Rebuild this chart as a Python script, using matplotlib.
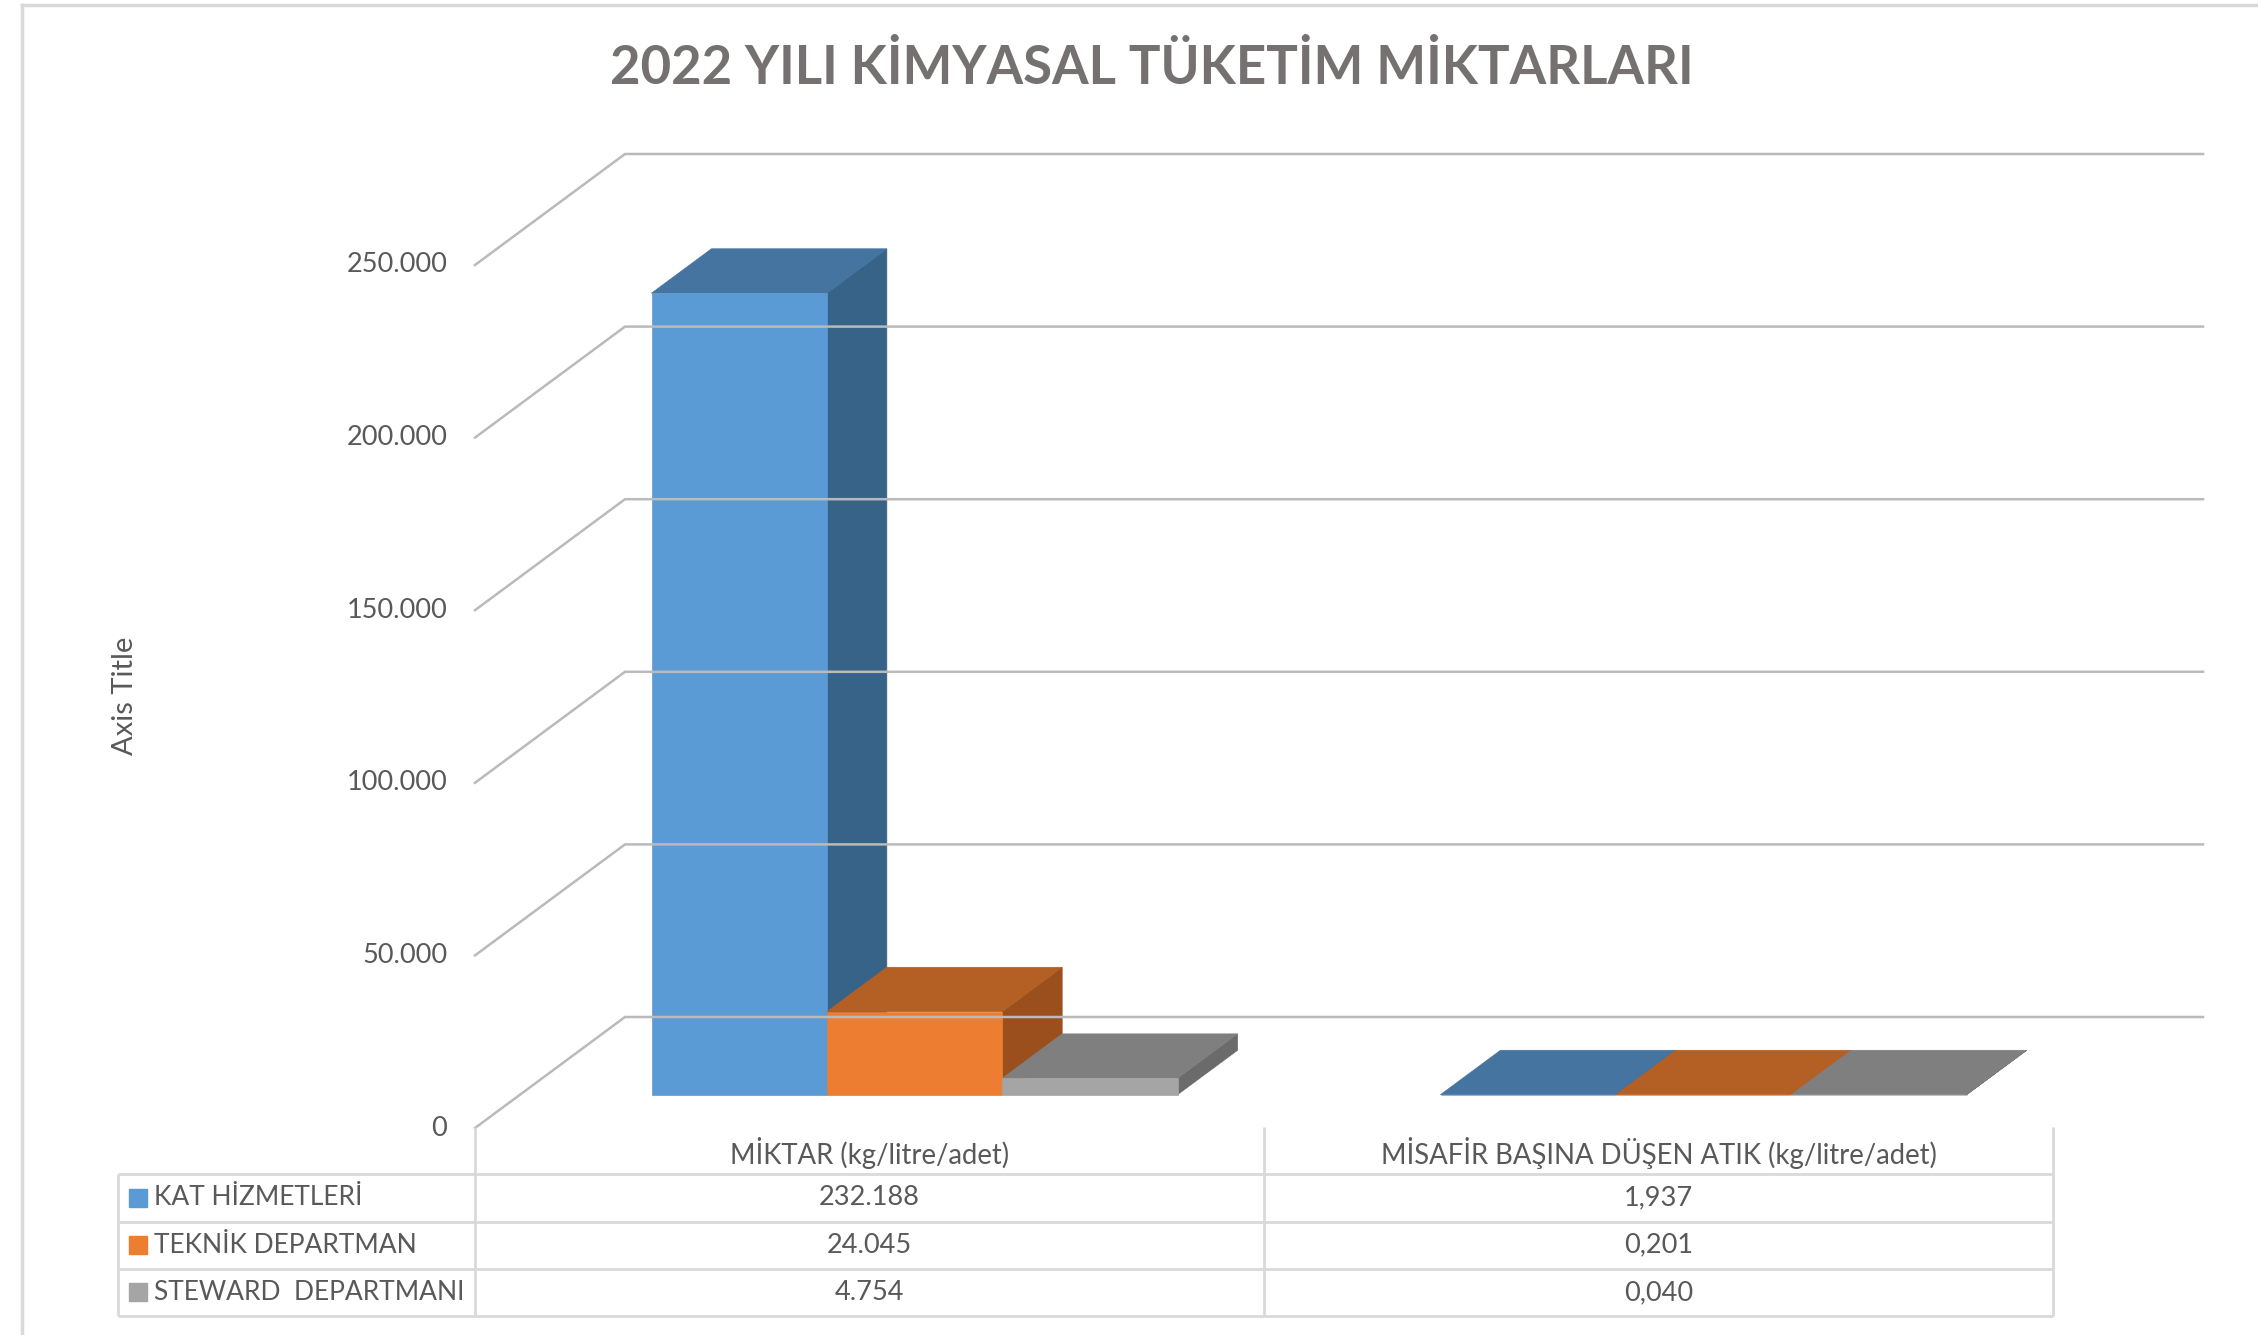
import numpy as np
import matplotlib
matplotlib.use("Agg")
import matplotlib.pyplot as plt
from matplotlib.patches import Polygon
from matplotlib.lines import Line2D

plt.rcParams['font.family'] = ['Lato', 'DejaVu Sans']

# data
categories = ["MİKTAR (kg/litre/adet)", "MİSAFİR BAŞINA DÜŞEN ATIK (kg/litre/adet)"]
series_names = ["KAT HİZMETLERİ", "TEKNİK DEPARTMAN", "STEWARD  DEPARTMANI"]
kat = [232188, 1.937]
teknik = [24045, 0.201]
steward = [4754, 0.040]
yticks = [0, 50000, 100000, 150000, 200000, 250000]

values = [kat, teknik, steward]
# front, top, side colours for each series
front_cols = ["#5b9bd5", "#ed7d31", "#a5a5a5"]
top_cols = ["#44749f", "#b45f24", "#7f7f7f"]
side_cols = ["#386388", "#9a4f1c", "#6b6b6b"]

txt_col = "#595959"
grid_col = "#bababa"
line_col = "#d9d9d9"

W, H = 2258, 1335
fig = plt.figure(figsize=(W / 100, H / 100), dpi=100)

# main plot area: x in category units, y in value units
x0_px, x2_px = 475, 2053
y0_px, ytop_px = 1128, 265
ax = fig.add_axes([x0_px / W, 1 - y0_px / H, (x2_px - x0_px) / W, (y0_px - ytop_px) / H])
ax.set_xlim(0, 2)
ax.set_ylim(0, 250000)
ax.axis('off')

# oblique depth offsets (full depth), in data units
DX = 150 / ((x2_px - x0_px) / 2)
DY = 111 / (y0_px - ytop_px) * 250000


def proj(x, y, d):
    return x + d * DX, y + d * DY


# walls / gridlines
for v in yticks:
    pts = [proj(0, v, 0), proj(0, v, 1), proj(2, v, 1)]
    xs, ys = zip(*pts)
    ax.plot(xs, ys, color=grid_col, lw=1.8, clip_on=False, solid_joinstyle='miter')
    ax.annotate(f"{v:,}".replace(",", "."), (0, v), xytext=(-20, 0),
                textcoords='offset points', ha='right', va='center',
                fontsize=19.5, color=txt_col)

# bars
bw = 1 / 4.5
gap = 0.75 * bw
d0, d1 = 0.3, 0.7
for i in range(len(categories)):
    for j in range(len(values)):
        v = values[j][i]
        xa = i + gap + j * bw
        xb = xa + bw
        side = [proj(xb, 0, d0), proj(xb, 0, d1), proj(xb, v, d1), proj(xb, v, d0)]
        top = [proj(xa, v, d0), proj(xb, v, d0), proj(xb, v, d1), proj(xa, v, d1)]
        front = [proj(xa, 0, d0), proj(xb, 0, d0), proj(xb, v, d0), proj(xa, v, d0)]
        for poly, c in [(side, side_cols[j]), (top, top_cols[j]), (front, front_cols[j])]:
            ax.add_patch(Polygon(poly, closed=True, facecolor=c, edgecolor=c,
                                 lw=0.5, clip_on=False))

# data table
tl_px, tt_px, tb_px = 118, 1127, 1316
ax_t = fig.add_axes([tl_px / W, 1 - tb_px / H, (x2_px - tl_px) / W, (tb_px - tt_px) / H])
xl = -(x0_px - tl_px) / ((x2_px - x0_px) / 2)
ax_t.set_xlim(xl, 2)
ax_t.set_ylim(4, 0)
ax_t.axis('off')
ax_t.hlines([1, 2, 3, 4], xl, 2, color=line_col, lw=2, clip_on=False)
ax_t.vlines([0, 1, 2], 0, 4, color=line_col, lw=2, clip_on=False)
ax_t.vlines([xl], 1, 4, color=line_col, lw=2, clip_on=False)

for i, cat in enumerate(categories):
    ax_t.text(i + 0.5, 0.55, cat, ha='center', va='center', fontsize=19.8, color=txt_col)

px_cat = (x2_px - x0_px) / 2
for j, name in enumerate(series_names):
    r = j + 1.5
    ax_t.plot([xl + 20 / px_cat], [r], marker='s', ms=13, color=front_cols[j], clip_on=False)
    ax_t.text(xl + 36 / px_cat, r, name, ha='left', va='center', fontsize=19, color=txt_col)
    ax_t.text(0.5, r, f"{int(values[j][0]):,}".replace(",", "."), ha='center', va='center',
              fontsize=19.5, color=txt_col)
    ax_t.text(1.5, r, f"{values[j][1]:.3f}".replace(".", ","), ha='center', va='center',
              fontsize=19.5, color=txt_col)

# axis title and chart title
fig.text(125 / W, 1 - 696 / H, "Axis Title", rotation=90, ha='center', va='center',
         fontsize=21, color=txt_col)
fig.text(1152 / W, 1 - 68 / H, "2022 YILI KİMYASAL TÜKETİM MİKTARLARI", ha='center',
         va='center', fontsize=38, fontweight='bold', color="#757171")

# chart border (top and left visible)
fig.add_artist(Line2D([22 / W, 1], [1 - 5 / H, 1 - 5 / H], transform=fig.transFigure,
                      color=line_col, lw=2.5))
fig.add_artist(Line2D([22 / W, 22 / W], [0, 1 - 5 / H], transform=fig.transFigure,
                      color=line_col, lw=2.5))

fig.savefig("out.png", dpi=100)
